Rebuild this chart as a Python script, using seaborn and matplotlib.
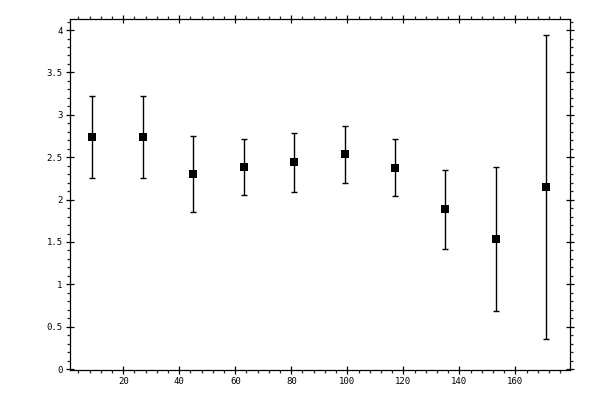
import numpy as np
import pandas as pd
import matplotlib
matplotlib.use('Agg')
import matplotlib.pyplot as plt
import seaborn as sns
from matplotlib.ticker import MultipleLocator

sns.set_style('ticks')
plt.rcParams['font.family'] = ['DejaVu Sans Mono']

# Data
x_vals = [9, 27, 45, 63, 81, 99, 117, 135, 153, 171]
y_vals = [2.74, 2.74, 2.30, 2.38, 2.44, 2.54, 2.37, 1.89, 1.54, 2.15]
y_upper = [3.22, 3.22, 2.745, 2.71, 2.78, 2.87, 2.71, 2.35, 2.38, 3.94]
y_lower = [2.255, 2.255, 1.855, 2.055, 2.09, 2.20, 2.045, 1.42, 0.69, 0.35]

df = pd.DataFrame({'x': x_vals, 'y': y_vals, 'hi': y_upper, 'lo': y_lower})

fig = plt.figure(figsize=(6, 4), dpi=100)
ax = fig.add_axes([70 / 600, 1 - 370 / 400, 500 / 600, 351 / 400])

# error bars
yerr = np.vstack([df['y'] - df['lo'], df['hi'] - df['y']])
ax.errorbar(df['x'], df['y'], yerr=yerr, fmt='none', ecolor='black',
            elinewidth=1.0, capsize=2.5, capthick=1.0, zorder=2)

# markers
sns.scatterplot(data=df, x='x', y='y', marker='s', color='black', s=28,
                edgecolor='black', linewidth=0, ax=ax, zorder=3)

ax.set_xlim(1, 179.5)
ax.set_ylim(-0.01, 4.13)
ax.set_xlabel('')
ax.set_ylabel('')

ax.xaxis.set_major_locator(MultipleLocator(20))
ax.xaxis.set_minor_locator(MultipleLocator(4))
ax.yaxis.set_major_locator(MultipleLocator(0.5))
ax.yaxis.set_minor_locator(MultipleLocator(0.1))
ax.set_xticks([20, 40, 60, 80, 100, 120, 140, 160])
ax.set_yticks([0, 0.5, 1, 1.5, 2, 2.5, 3, 3.5, 4])
ax.set_yticklabels(['0', '0.5', '1', '1.5', '2', '2.5', '3', '3.5', '4'])

for side in ['top', 'right', 'left', 'bottom']:
    ax.spines[side].set_visible(True)
    ax.spines[side].set_linewidth(0.9)
    ax.spines[side].set_color('black')

ax.tick_params(which='major', direction='inout', length=5.5, width=0.9,
               top=True, right=True, labelsize=6.5, pad=2.5, colors='black')
ax.tick_params(which='minor', direction='out', length=2.3, width=0.9,
               top=True, right=True)
ax.grid(False)

fig.savefig('out.png', dpi=100, facecolor='white')
